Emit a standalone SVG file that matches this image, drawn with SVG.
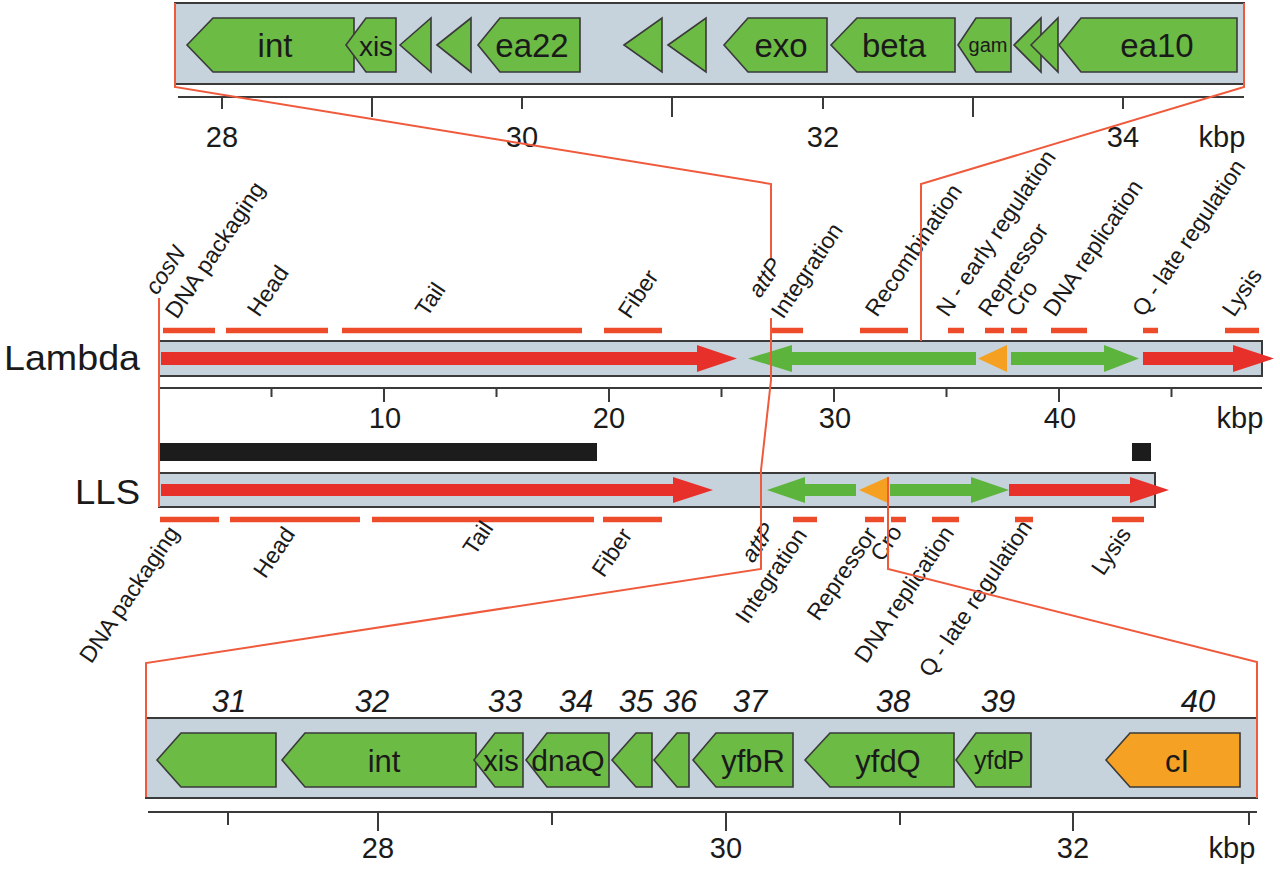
<svg xmlns="http://www.w3.org/2000/svg" width="1280" height="871" viewBox="0 0 1280 871">
<style>
text{font-family:"Liberation Sans",Arial,sans-serif;fill:#1a1a1a}
.panel{fill:#c6d2dc;stroke:#3a3a3a;stroke-width:2}
.gene{fill:#6cbb45;stroke:#3a3a3a;stroke-width:1.6;stroke-linejoin:miter}
.cI{fill:#f5a124;stroke:#3a3a3a;stroke-width:1.6}
.gl{font-size:32px;text-anchor:middle}
.ax{stroke:#3a3a3a;stroke-width:2;fill:none}
.axl{font-size:29px;text-anchor:middle}
.rl{font-size:23px}
.it{font-style:italic}
.num{font-size:31px;font-style:italic;text-anchor:middle}
.dash{stroke:#ee4b2b;stroke-width:5.5;fill:none}
.red{fill:#e8302a}
.grn{fill:#5db43d}
.org{fill:#f5a020}
.con{stroke:#ef5a3d;stroke-width:2;fill:none}
.blk{fill:#1c1c1c}
</style>

<g id="top-panel">
<rect class="panel" x="175" y="3" width="1069" height="81"/>
<polygon class="gene" points="187,45 213,18 354,18 354,72 213,72"/>
<polygon class="gene" points="346,45 366,18 396,18 396,72 366,72"/>
<polygon class="gene" points="400,45 431,18 431,72"/>
<polygon class="gene" points="437,45 471,18 471,72"/>
<polygon class="gene" points="478,45 500,18 580,18 580,72 500,72"/>
<polygon class="gene" points="624,45 662,18 662,72"/>
<polygon class="gene" points="668,45 706,18 706,72"/>
<polygon class="gene" points="724,45 748,18 827,18 827,72 748,72"/>
<polygon class="gene" points="831,45 857,18 955,18 955,72 857,72"/>
<polygon class="gene" points="958,45 976,18 1011,18 1011,72 976,72"/>
<polygon class="gene" points="1014,45 1041,18 1041,72"/>
<polygon class="gene" points="1031,45 1058,18 1058,72"/>
<polygon class="gene" points="1059,45 1081,18 1237,18 1237,72 1081,72"/>
<text class="gl" x="275" y="57" style="font-size:33px">int</text>
<text class="gl" x="376" y="56" style="font-size:28px">xis</text>
<text class="gl" x="532" y="57" style="font-size:33px">ea22</text>
<text class="gl" x="781" y="57" style="font-size:33px">exo</text>
<text class="gl" x="894" y="57" style="font-size:33px">beta</text>
<text class="gl" x="988" y="52" style="font-size:20px">gam</text>
<text class="gl" x="1157" y="57" style="font-size:33px">ea10</text>
</g>

<g id="top-axis">
<path class="ax" d="M178,97H1244M222,97V109M372,97V117M522,97V109M672,97V117M823,97V109M973,97V117M1123,97V109"/>
<text class="axl" x="222" y="147">28</text>
<text class="axl" x="522" y="147">30</text>
<text class="axl" x="823" y="147">32</text>
<text class="axl" x="1123" y="147">34</text>
<text class="axl" x="1222" y="147">kbp</text>
</g>

<g id="lambda-labels">
<g transform="translate(157,296) rotate(-56)"><text class="rl it">cosN</text></g>
<g transform="translate(177,320) rotate(-56)"><text class="rl">DNA packaging</text></g>
<g transform="translate(259,318) rotate(-56)"><text class="rl">Head</text></g>
<g transform="translate(427,318) rotate(-56)"><text class="rl">Tail</text></g>
<g transform="translate(630,320) rotate(-56)"><text class="rl">Fiber</text></g>
<g transform="translate(760,299) rotate(-56)"><text class="rl it">attP</text></g>
<g transform="translate(783,320) rotate(-56)"><text class="rl">Integration</text></g>
<g transform="translate(877,318) rotate(-56)"><text class="rl">Recombination</text></g>
<g transform="translate(948,318) rotate(-56)"><text class="rl">N - early regulation</text></g>
<g transform="translate(990,318) rotate(-56)"><text class="rl">Repressor</text></g>
<g transform="translate(1018,318) rotate(-56)"><text class="rl">Cro</text></g>
<g transform="translate(1055,318) rotate(-56)"><text class="rl">DNA replication</text></g>
<g transform="translate(1144,318) rotate(-56)"><text class="rl">Q - late regulation</text></g>
<g transform="translate(1234,318) rotate(-56)"><text class="rl">Lysis</text></g>
<path class="dash" d="M163,330.5H215M226,330.5H328M342,330.5H582M604,330.5H662M771,330.5H803M860,330.5H908M948,330.5H964M985,330.5H1004M1011,330.5H1027M1051,330.5H1087M1143,330.5H1158M1225,330.5H1259"/>
</g>

<g id="lambda">
<text x="4" y="370" style="font-size:35px" textLength="136" lengthAdjust="spacingAndGlyphs">Lambda</text>
<rect class="panel" x="159" y="341" width="1103" height="35"/>
<polygon class="red" points="161,352 697,352 697,345 737,358.5 697,372 697,365 161,365"/>
<polygon class="grn" points="748,358.5 792,345 792,352 976,352 976,365 792,365 792,372"/>
<polygon class="org" points="978,358.5 1007,345 1007,372"/>
<polygon class="grn" points="1011,352 1104,352 1104,345 1139,358.5 1104,372 1104,365 1011,365"/>
<polygon class="red" points="1143,352 1233,352 1233,345 1274,358.5 1233,372 1233,365 1143,365"/>
</g>

<g id="lambda-axis">
<path class="ax" d="M159,388H1262M159,388V403M271.5,388V397M384,388V402M496.5,388V397M609,388V402M721.5,388V397M834,388V402M946.5,388V397M1059,388V402M1171.5,388V397"/>
<text class="axl" x="385" y="428">10</text>
<text class="axl" x="609" y="428">20</text>
<text class="axl" x="835" y="428">30</text>
<text class="axl" x="1060" y="428">40</text>
<text class="axl" x="1240" y="428">kbp</text>
</g>

<g id="coverage">
<rect class="blk" x="160" y="443" width="437" height="18"/>
<rect class="blk" x="1132" y="443" width="19" height="18"/>
</g>

<g id="lls">
<text x="75" y="504" style="font-size:35px" textLength="65" lengthAdjust="spacingAndGlyphs">LLS</text>
<rect class="panel" x="159" y="473" width="996" height="34"/>
<polygon class="red" points="161,484 673,484 673,477 713,490 673,503 673,496 161,496"/>
<polygon class="grn" points="767,490 805,477 805,484 856,484 856,496 805,496 805,503"/>
<polygon class="org" points="859,490 888,477 888,503"/>
<polygon class="grn" points="890,484 971,484 971,477 1009,490 971,503 971,496 890,496"/>
<polygon class="red" points="1009,484 1130,484 1130,477 1169,490 1130,503 1130,496 1009,496"/>
</g>

<g id="lls-labels">
<path class="dash" d="M160,519.5H219M230,519.5H360M372,519.5H594M603,519.5H662M793,519.5H817M865,519.5H884M891,519.5H906M932,519.5H959M1015,519.5H1033M1112,519.5H1144"/>
<g transform="translate(180,533) rotate(-56)"><text class="rl" text-anchor="end">DNA packaging</text></g>
<g transform="translate(296,534) rotate(-56)"><text class="rl" text-anchor="end">Head</text></g>
<g transform="translate(494,528) rotate(-56)"><text class="rl" text-anchor="end">Tail</text></g>
<g transform="translate(633,535) rotate(-56)"><text class="rl" text-anchor="end">Fiber</text></g>
<g transform="translate(776,530) rotate(-56)"><text class="rl it" text-anchor="end">attP</text></g>
<g transform="translate(808,535) rotate(-56)"><text class="rl" text-anchor="end">Integration</text></g>
<g transform="translate(878,534) rotate(-56)"><text class="rl" text-anchor="end">Repressor</text></g>
<g transform="translate(903,532) rotate(-56)"><text class="rl" text-anchor="end">Cro</text></g>
<g transform="translate(955,533) rotate(-56)"><text class="rl" text-anchor="end">DNA replication</text></g>
<g transform="translate(1033,527) rotate(-56)"><text class="rl" text-anchor="end">Q - late regulation</text></g>
<g transform="translate(1132,534) rotate(-56)"><text class="rl" text-anchor="end">Lysis</text></g>
</g>

<g id="bottom-panel">
<text class="num" x="229" y="712">31</text>
<text class="num" x="372" y="712">32</text>
<text class="num" x="505" y="712">33</text>
<text class="num" x="576" y="712">34</text>
<text class="num" x="636" y="712">35</text>
<text class="num" x="680" y="712">36</text>
<text class="num" x="750" y="712">37</text>
<text class="num" x="893" y="712">38</text>
<text class="num" x="998" y="712">39</text>
<text class="num" x="1198" y="712">40</text>
<rect class="panel" x="146" y="718" width="1111" height="80"/>
<polygon class="gene" points="157,760 181,733 276,733 276,787 181,787"/>
<polygon class="gene" points="282,760 305,733 476,733 476,787 305,787"/>
<polygon class="gene" points="474,760 495,733 523,733 523,787 495,787"/>
<polygon class="gene" points="526,760 547,733 609,733 609,787 547,787"/>
<polygon class="gene" points="612,760 636,733 652,733 652,787 636,787"/>
<polygon class="gene" points="654,760 677,733 689,733 689,787 677,787"/>
<polygon class="gene" points="693,760 716,733 793,733 793,787 716,787"/>
<polygon class="gene" points="805,760 830,733 954,733 954,787 830,787"/>
<polygon class="gene" points="956,760 976,733 1031,733 1031,787 976,787"/>
<polygon class="cI" points="1106,760 1130,733 1240,733 1240,787 1130,787"/>
<text class="gl" x="384" y="772" style="font-size:31px">int</text>
<text class="gl" x="501" y="771" style="font-size:29px">xis</text>
<text class="gl" x="568" y="771" style="font-size:30px">dnaQ</text>
<text class="gl" x="753" y="772" style="font-size:31px">yfbR</text>
<text class="gl" x="888" y="772" style="font-size:31px">yfdQ</text>
<text class="gl" x="999" y="769" style="font-size:25px">yfdP</text>
<text class="gl" x="1177" y="772" style="font-size:31px">cI</text>
</g>

<g id="bottom-axis">
<path class="ax" d="M148,812H1257M228,812V825M378,812V831M552,812V825M726,812V831M900,812V825M1073,812V831M1249,812V825"/>
<text class="axl" x="378" y="858">28</text>
<text class="axl" x="726" y="858">30</text>
<text class="axl" x="1073" y="858">32</text>
<text class="axl" x="1232" y="858">kbp</text>
</g>

<g id="connectors">
<polyline class="con" points="175,3 175,87 771,184 771,258"/>
<polyline class="con" points="771,318 771,380 761,470 761,569 146,663 146,797"/>
<polyline class="con" points="1244,3 1244,87 921,184 921,341"/>
<polyline class="con" points="888,477 888,569 1257,662 1257,798"/>
<line class="con" x1="159" y1="298" x2="159" y2="507"/>
</g>
</svg>
